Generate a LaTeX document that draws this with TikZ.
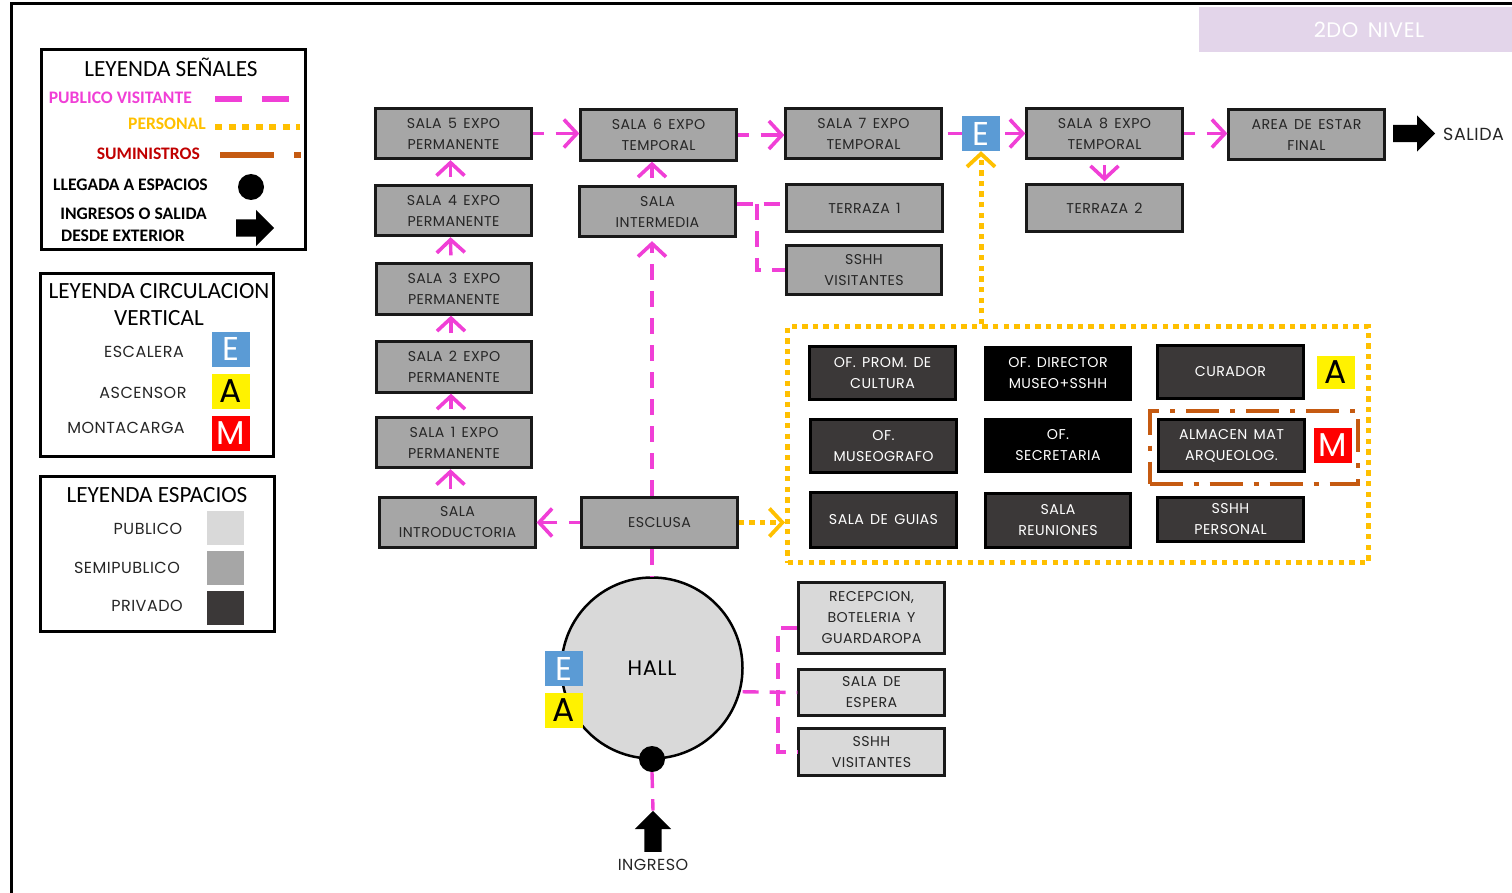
\documentclass[tikz,border=0pt]{standalone}
\usepackage{fontspec}
\setmainfont{Poppins}[LetterSpace=3,WordSpace=1.5]
\newfontfamily\titlefont{Carlito}
\usetikzlibrary{arrows.meta,shapes.arrows}
\definecolor{visitpink}{HTML}{F03FD6}
\definecolor{staffgold}{HTML}{FFC000}
\definecolor{supplybrown}{HTML}{C55A11}
\definecolor{supplyred}{HTML}{C00000}
\definecolor{escblue}{HTML}{5B9BD5}
\definecolor{publicgray}{HTML}{D9D9D9}
\definecolor{semigray}{HTML}{A6A6A6}
\definecolor{privategray}{HTML}{3B3838}
\definecolor{lilac}{HTML}{E3D5EA}
\tikzset{
  x=1pt, y=-1pt,
  semi/.style={draw=black!90, line width=2.8pt, fill=semigray, text=black!85, inner sep=0pt, align=center,
    minimum width=155.5pt, minimum height=50.5pt, font=\fontsize{14.2}{21}\selectfont},
  publicroom/.style={semi, fill=publicgray, minimum width=145.5pt},
  privateroom/.style={semi, draw=black, fill=privategray, text=white, minimum width=145.5pt, minimum height=52.5pt},
  directroom/.style={privateroom, fill=black},
  badge/.style={inner sep=0pt, minimum width=38pt, minimum height=35pt, font=\fontsize{33}{33}\selectfont},
  badgeE/.style={badge, fill=escblue, text=white},
  badgeA/.style={badge, fill=yellow, text=black},
  badgeM/.style={badge, fill=red, text=white},
  legendbox/.style={draw=black, line width=2.5pt, inner sep=0pt},
  legendtitle/.style={inner sep=0pt, align=center, font=\titlefont\fontsize{23.2}{27}\selectfont},
  legendtext/.style={inner sep=0pt, font=\fontsize{16}{18}\selectfont, text=black!85},
  signtext/.style={inner sep=0pt, font=\titlefont\bfseries\fontsize{17.6}{21}\selectfont},
  swatch/.style={inner sep=0pt, minimum width=37pt, minimum height=34pt},
  blockarrow/.style={single arrow, fill=black, anchor=tail, inner xsep=0pt, inner ysep=8.5pt, text width=0pt, text height=0pt, text depth=0pt,
    single arrow head extend=9.5pt, single arrow tip angle=90, minimum height=40pt},
  arrivaldot/.style={circle, fill=black, inner sep=0pt, minimum size=26pt},
  visitor/.style={draw=visitpink, line width=3.4pt, dash pattern=on 16pt off 11pt},
  visitorarrow/.style={visitor, -{Straight Barb[length=13pt,width=28pt,line width=3.6pt]}},
  hoparrow/.style={visitorarrow, dash pattern=on 11pt off 12pt on 60pt off 0pt},
  climbarrow/.style={visitorarrow, solid, shorten <=7pt},
  staff/.style={draw=staffgold, line width=5pt, dash pattern=on 5.3pt off 5.3pt},
  staffarrow/.style={staff, -{Straight Barb[length=13pt,width=28pt,line width=3.8pt]}},
  supply/.style={draw=supplybrown, line width=4pt, dash pattern=on 33pt off 11pt on 5pt off 11pt},
}

\begin{document}
\begin{tikzpicture}
\useasboundingbox (0,0) rectangle (1512,893);
% sheet
\draw[line width=3pt, black] (11,893) -- (11,4) -- (1512,4);
\fill[lilac] (1199,7) rectangle (1512,52);
\node[text=white, font=\fontsize{21}{24}\selectfont, inner sep=0pt] (nivel) at (1369,30) {2DO NIVEL};

% legend signs
\node[legendbox, minimum width=264pt, minimum height=200pt] (legsign) at (173.5,149.5) {};
\node[legendtitle] (legsigntitle) at (171,67) {LEYENDA SEÑALES};
\node[signtext, text=visitpink, anchor=east] (legvisit) at (192,98) {PUBLICO VISITANTE};
\node[signtext, text=staffgold, anchor=east] (legstaff) at (206,124) {PERSONAL};
\node[signtext, text=supplyred, anchor=east] (legsupply) at (200,154) {SUMINISTROS};
\node[signtext, anchor=east] (legarrive) at (208,185) {LLEGADA A ESPACIOS};
\node[signtext, anchor=east] (legdoor) at (207,214) {INGRESOS O SALIDA};
\node[signtext, anchor=west] (legdoorb) at (61,236) {DESDE EXTERIOR};
\coordinate (visita) at (215,99);
\coordinate (visitb) at (290,99);
\coordinate (staffa) at (215,127);
\coordinate (staffb) at (300,127);
\coordinate (supplya) at (220,155);
\coordinate (supplyb) at (301,155);
\draw[visitor, line width=5.5pt, dash pattern=on 27pt off 20pt] (visita) -- (visitb);
\draw[staff, line width=6pt, dash pattern=on 7pt off 6.5pt] (staffa) -- (staffb);
\draw[supply, line width=5.5pt, dash pattern=on 54pt off 20pt] (supplya) -- (supplyb);
\node[arrivaldot] (legdot) at (251,187) {};
\node[blockarrow, minimum height=38pt] (legarrow) at (236,228) {};

% legend vertical circulation
\node[legendbox, minimum width=233pt, minimum height=183pt] (legvert) at (157,365) {};
\node[legendtitle] (legverttitle) at (159,304.5) {LEYENDA CIRCULACION\\VERTICAL};
\node[legendtext] (legstair) at (144,352) {ESCALERA};
\node[legendtext] (leglift) at (143,393) {ASCENSOR};
\node[legendtext] (legcargo) at (126,428) {MONTACARGA};
\node[badgeE] (legE) at (230.5,349) {E};
\node[badgeA] (legA) at (230.5,391) {A};
\node[badgeM] (legM) at (230.5,433.5) {M};

% legend spaces
\node[legendbox, minimum width=234pt, minimum height=155pt] (legspace) at (157.5,554) {};
\node[legendtitle] (legspacetitle) at (157,495) {LEYENDA ESPACIOS};
\node[legendtext] (legpublic) at (148,529) {PUBLICO};
\node[legendtext] (legsemi) at (127,568) {SEMIPUBLICO};
\node[legendtext] (legprivate) at (147,606) {PRIVADO};
\node[swatch, fill=publicgray] (swpublic) at (225.5,527.5) {};
\node[swatch, fill=semigray] (swsemi) at (225.5,568) {};
\node[swatch, fill=privategray] (swprivate) at (225.5,607.5) {};

% rooms, first column
\node[semi] (sala5) at (453.5,133.5) {SALA 5 EXPO\\PERMANENTE};
\node[semi] (sala4) at (453.5,210.5) {SALA 4 EXPO\\PERMANENTE};
\node[semi] (sala3) at (454,289) {SALA 3 EXPO\\PERMANENTE};
\node[semi] (sala2) at (454,367) {SALA 2 EXPO\\PERMANENTE};
\node[semi] (sala1) at (454,442.5) {SALA 1 EXPO\\PERMANENTE};
\node[semi] (intro) at (457.5,522.5) {SALA\\INTRODUCTORIA};
\node[semi] (esclusa) at (659.5,522.5) {ESCLUSA};
\node[semi] (sala6) at (658.5,135) {SALA 6 EXPO\\TEMPORAL};
\node[semi] (intermedia) at (657.5,211.5) {SALA\\INTERMEDIA};
\node[semi] (sala7) at (863.5,133.5) {SALA 7 EXPO\\TEMPORAL};
\node[semi, minimum height=46.5pt] (terraza1) at (864.5,208) {TERRAZA 1};
\node[semi, minimum height=48.5pt] (sshhup) at (864,270) {SSHH\\VISITANTES};
\node[semi] (sala8) at (1104.5,133.5) {SALA 8 EXPO\\TEMPORAL};
\node[semi, minimum height=46.5pt] (terraza2) at (1104.5,208) {TERRAZA 2};
\node[semi] (areafinal) at (1306.5,134.5) {AREA DE ESTAR\\FINAL};

% private offices
\node[privateroom] (ofprom) at (882.5,373) {OF. PROM. DE\\CULTURA};
\node[directroom] (ofdir) at (1058,373.5) {OF. DIRECTOR\\MUSEO+SSHH};
\node[privateroom] (curador) at (1230.5,372) {CURADOR};
\node[privateroom] (ofmuseo) at (883.5,446) {OF.\\MUSEOGRAFO};
\node[directroom] (ofsecre) at (1058,445.5) {OF.\\SECRETARIA};
\node[privateroom] (almacen) at (1231.5,445.5) {ALMACEN MAT\\ARQUEOLOG.};
\node[privateroom, minimum height=54.5pt] (guias) at (883.5,520) {SALA DE GUIAS};
\node[privateroom, minimum height=53.5pt] (reuniones) at (1058,520.5) {SALA\\REUNIONES};
\node[privateroom, minimum height=43.5pt] (sshhstaff) at (1230.5,519.5) {SSHH\\PERSONAL};
\node[badgeA, minimum height=33pt] (badgeAcur) at (1336,372.5) {A};
\node[badgeM] (badgeMalm) at (1333,445.5) {M};
\node[badgeE] (badgeEtop) at (981,133.5) {E};
\node[staff, draw=staffgold, inner sep=0pt, minimum width=581pt, minimum height=236pt] (staffzone) at (1078,444.5) {};
\node[supply, draw=supplybrown, inner sep=0pt, minimum width=208pt, minimum height=73pt] (supplyzone) at (1253.5,447) {};

% hall
\node[circle, draw=black, line width=2.5pt, fill=publicgray, inner sep=0pt, minimum size=181pt, font=\fontsize{21}{23}\selectfont] (hall) at (652,668) {HALL};
\node[badgeE] (badgeEhall) at (564,668.5) {E};
\node[badgeA] (badgeAhall) at (564,710.5) {A};
\node[arrivaldot] (halldot) at (652,759) {};
\node[publicroom, minimum height=70.5pt] (recepcion) at (871.5,618) {RECEPCION,\\BOTELERIA Y\\GUARDAROPA};
\node[publicroom, minimum height=45.5pt] (espera) at (871.5,692.5) {SALA DE\\ESPERA};
\node[publicroom, minimum height=46.5pt] (sshhlow) at (871.5,752) {SSHH\\VISITANTES};
\node[blockarrow, rotate=90, minimum height=41pt] (ingresoarrow) at (653,852) {};
\node[legendtext] (ingreso) at (653,865) {INGRESO};
\node[blockarrow, minimum height=42pt] (salidaarrow) at (1393,133.5) {};
\node[legendtext, anchor=west, font=\fontsize{17.5}{20}\selectfont] (salida) at (1443,134) {SALIDA};

% public route
\draw[hoparrow] (sala5.east) -- (sala5.east -| sala6.west);
\draw[hoparrow] (sala6.east) -- (sala6.east -| sala7.west);
\draw[visitor, solid, shorten <=5pt] (sala7.east) -- (sala7.east -| badgeEtop.west);
\draw[climbarrow, shorten <=5pt] (badgeEtop.east) -- (badgeEtop.east -| sala8.west);
\draw[hoparrow] (sala8.east) -- (sala8.east -| areafinal.west);
\draw[climbarrow, shorten <=5pt, shorten >=2pt] (sala8.south) -- (terraza2.north);
\draw[climbarrow] ([xshift=-3pt]sala4.north) -- ([xshift=-3pt]sala5.south);
\draw[climbarrow] ([xshift=-3pt]sala3.north) -- ([xshift=-3pt]sala4.south);
\draw[climbarrow] ([xshift=-3pt]sala2.north) -- ([xshift=-3pt]sala3.south);
\draw[climbarrow] ([xshift=-3pt]sala1.north) -- ([xshift=-3pt]sala2.south);
\draw[climbarrow] ([xshift=-7pt]intro.north) -- ([xshift=-7pt]intro.north |- sala1.south);
\draw[hoparrow] (esclusa.west) -- (intro.east);
\draw[visitorarrow, shorten >=3pt] (hall.north |- esclusa.north) -- (hall.north |- intermedia.south);
\draw[climbarrow] (hall.north |- intermedia.north) -- (hall.north |- sala6.south);
\draw[visitor] (hall.north |- esclusa.south) -- (hall.north);
\draw[visitor] (halldot.south) -- (ingresoarrow.tip);
% branches
\coordinate (branchup) at (757,204);
\draw[visitor] (branchup -| intermedia.east) -- (branchup -| terraza1.west);
\draw[visitor] (branchup) -- (branchup |- sshhup.west) -- (sshhup.west);
\coordinate (branchtop) at (778,628);
\coordinate (branchlow) at (778,752);
\draw[visitor] (branchtop -| recepcion.west) -- (branchtop) -- (branchlow) -- (sshhlow.west);
\draw[visitor, shorten <=2pt] (hall.-15.5) -- (espera.west);

% staff route
\draw[staffarrow] (esclusa.east) -- (esclusa.east -| staffzone.west);
\draw[staffarrow] (staffzone.north -| badgeEtop.south) -- (badgeEtop.south);
\end{tikzpicture}
\end{document}
